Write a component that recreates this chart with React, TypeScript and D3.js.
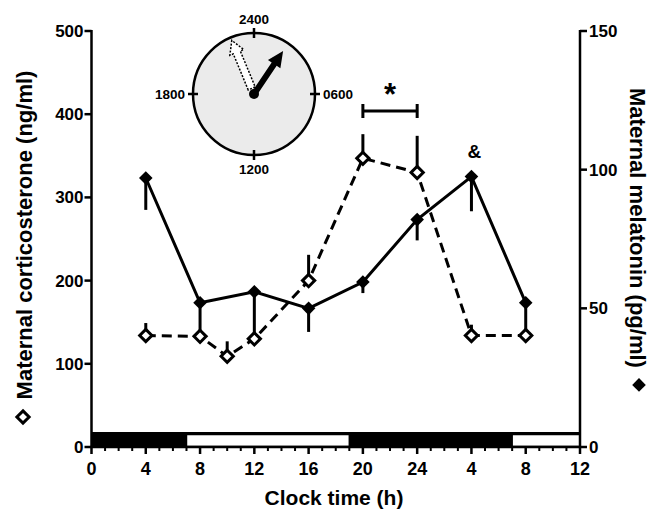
import * as React from "react";
import * as d3 from "d3";

// corticosterone (open diamonds, dashed line, left axis)
const cortHours = [4, 8, 10, 12, 16, 20, 24, 28, 32];
const cortMean = [134, 133, 109, 130, 200, 347, 330, 134, 134];
const cortSem = [15, 0, 18, 0, 31, 29, 44, 13, 0];

// melatonin (filled diamonds, solid line, right axis)
const melHours = [4, 8, 12, 16, 20, 24, 28, 32];
const melMean = [97, 52, 56, 50, 59.5, 82, 97.5, 52];
const melSem = [11.5, 11, 17, 8.5, 4, 7.5, 12.5, 9.5];

const xTickHours = [0, 4, 8, 12, 16, 20, 24, 28, 32, 36];
const xTickLabels = ["0", "4", "8", "12", "16", "20", "24", "4", "8", "12"];
const leftTicks = [0, 100, 200, 300, 400, 500];
const rightTicks = [0, 50, 100, 150];

// light / dark bar
const lightPeriods = [[7, 19], [31, 36]];

// clock inset
const clockLabels = ["2400", "0600", "1200", "1800"];
const clockLabelHours = [0, 6, 12, 18];
const melAcrophase = 2.27;
const cortAcrophase = 22.5;

const sigRange = [20, 24];
const ampHour = 28;

const FONT = "Arial, 'Liberation Sans', Helvetica, sans-serif";

export default function App() {
  const ref = React.useRef<SVGSVGElement>(null);

  React.useEffect(() => {
    const svg = d3.select(ref.current);
    svg.selectAll("*").remove();

    const x = d3.scaleLinear().domain([0, 36]).range([91.5, 580]);
    const yL = d3.scaleLinear().domain([0, 500]).range([447, 31]);
    const yR = d3.scaleLinear().domain([0, 150]).range([447, 31]);

    const g = svg.append("g").style("font-family", FONT).style("font-weight", "bold");

    // light/dark bar
    g.append("rect")
      .attr("x", x(0)).attr("y", 432)
      .attr("width", x(36) - x(0)).attr("height", 15)
      .attr("fill", "#000");
    g.selectAll(".light").data(lightPeriods).enter().append("rect")
      .attr("x", d => x(d[0])).attr("y", 434.5)
      .attr("width", d => x(d[1]) - x(d[0])).attr("height", 12)
      .attr("fill", "#fff").attr("stroke", "#000").attr("stroke-width", 1.5);

    // axes
    const axis = g.append("g").attr("stroke", "#000").attr("stroke-width", 2.5);
    axis.append("line").attr("x1", x(0)).attr("x2", x(0)).attr("y1", yL(500) - 1).attr("y2", yL(0) + 1);
    axis.append("line").attr("x1", x(36)).attr("x2", x(36)).attr("y1", yR(150) - 1).attr("y2", yR(0) + 1);
    axis.append("line").attr("x1", x(0) - 1).attr("x2", x(36) + 1).attr("y1", 447).attr("y2", 447);

    leftTicks.forEach(t => {
      axis.append("line").attr("x1", x(0) - 7).attr("x2", x(0)).attr("y1", yL(t)).attr("y2", yL(t));
    });
    rightTicks.forEach(t => {
      axis.append("line").attr("x1", x(36)).attr("x2", x(36) + 7).attr("y1", yR(t)).attr("y2", yR(t));
    });
    d3.range(0, 37).forEach(h => {
      const major = h % 4 === 0;
      axis.append("line").attr("x1", x(h)).attr("x2", x(h))
        .attr("y1", 447).attr("y2", 447 + (major ? 7 : 4))
        .attr("stroke-width", major ? 2.5 : 2);
    });

    // tick labels
    g.selectAll(".lt").data(leftTicks).enter().append("text")
      .attr("x", x(0) - 8).attr("y", d => yL(d) + 6)
      .attr("text-anchor", "end").attr("font-size", 17).text(d => d);
    g.selectAll(".rt").data(rightTicks).enter().append("text")
      .attr("x", x(36) + 9).attr("y", d => yR(d) + 6)
      .attr("font-size", 17).text(d => d);
    g.selectAll(".xt").data(xTickHours).enter().append("text")
      .attr("x", d => x(d)).attr("y", 475)
      .attr("text-anchor", "middle").attr("font-size", 18)
      .text((d, i) => xTickLabels[i]);

    // axis titles
    g.append("text").attr("x", 334).attr("y", 505).attr("text-anchor", "middle")
      .attr("font-size", 21).text("Clock time (h)");

    g.append("text")
      .attr("transform", "translate(32,235) rotate(-90)")
      .attr("text-anchor", "middle")
      .attr("font-size", 22).text("Maternal corticosterone (ng/ml)");
    const rightTitle = g.append("text")
      .attr("transform", "translate(630,88) rotate(90)")
      .attr("font-size", 22).text("Maternal melatonin (pg/ml)");
    const rightLen = (rightTitle.node() as SVGTextElement).getComputedTextLength();

    const openDiamond = d3.symbol(d3.symbolDiamond2, 95)();
    const filledDiamond = d3.symbol(d3.symbolDiamond2, 118)();

    g.append("path").attr("d", openDiamond)
      .attr("transform", "translate(23,417)")
      .attr("fill", "#fff").attr("stroke", "#000").attr("stroke-width", 3);
    g.append("path").attr("d", filledDiamond)
      .attr("transform", `translate(639,${88 + rightLen + 17})`)
      .attr("fill", "#000");

    // error bars
    const eb = g.append("g").attr("stroke", "#000").attr("stroke-width", 3);
    cortHours.forEach((h, i) => {
      if (cortSem[i] > 0)
        eb.append("line").attr("x1", x(h)).attr("x2", x(h))
          .attr("y1", yL(cortMean[i])).attr("y2", yL(cortMean[i] + cortSem[i]));
    });
    melHours.forEach((h, i) => {
      eb.append("line").attr("x1", x(h)).attr("x2", x(h))
        .attr("y1", yR(melMean[i])).attr("y2", yR(melMean[i] - melSem[i]));
    });

    // lines
    const melLine = d3.line<number>().x((d, i) => x(melHours[i])).y(d => yR(d));
    const cortLine = d3.line<number>().x((d, i) => x(cortHours[i])).y(d => yL(d));
    g.append("path").attr("d", melLine(melMean)).attr("fill", "none")
      .attr("stroke", "#000").attr("stroke-width", 3);
    g.append("path").attr("d", cortLine(cortMean)).attr("fill", "none")
      .attr("stroke", "#000").attr("stroke-width", 3).attr("stroke-dasharray", "10,6");

    // markers
    g.selectAll(".mm").data(melMean).enter().append("path")
      .attr("d", filledDiamond)
      .attr("transform", (d, i) => `translate(${x(melHours[i])},${yR(d)})`)
      .attr("fill", "#000");
    g.selectAll(".cm").data(cortMean).enter().append("path")
      .attr("d", openDiamond)
      .attr("transform", (d, i) => `translate(${x(cortHours[i])},${yL(d)})`)
      .attr("fill", "#fff").attr("stroke", "#000").attr("stroke-width", 3);

    // significance bracket
    const by = 111;
    g.append("path")
      .attr("d", `M${x(sigRange[0])},${by - 7}V${by + 7}M${x(sigRange[0])},${by}H${x(sigRange[1])}M${x(sigRange[1])},${by - 7}V${by + 7}`)
      .attr("stroke", "#000").attr("stroke-width", 3).attr("fill", "none");
    g.append("text").attr("x", (x(sigRange[0]) + x(sigRange[1])) / 2).attr("y", 105)
      .attr("text-anchor", "middle").attr("font-size", 31).text("*");
    g.append("text").attr("x", x(ampHour) + 3).attr("y", 158)
      .attr("text-anchor", "middle").attr("font-size", 19).text("&");

    // clock inset
    const cx = 254, cy = 94, r = 61;
    const angle = d3.scaleLinear().domain([0, 24]).range([0, 360]);
    const clock = g.append("g").attr("transform", `translate(${cx},${cy})`);
    clock.append("circle").attr("r", r).attr("fill", "#ebebeb")
      .attr("stroke", "#000").attr("stroke-width", 2.5);
    clockLabelHours.forEach(h => {
      clock.append("line").attr("transform", `rotate(${angle(h)})`)
        .attr("x1", 0).attr("x2", 0).attr("y1", -r - 5).attr("y2", -r + 5)
        .attr("stroke", "#000").attr("stroke-width", 2.5);
    });
    const lblPos = [
      { x: 0, y: -r - 9, anchor: "middle" },
      { x: r + 8, y: 5, anchor: "start" },
      { x: 0, y: r + 19, anchor: "middle" },
      { x: -r - 8, y: 5, anchor: "end" },
    ];
    clockLabels.forEach((l, i) => {
      clock.append("text").attr("x", lblPos[i].x).attr("y", lblPos[i].y)
        .attr("text-anchor", lblPos[i].anchor).attr("font-size", 13.5).text(l);
    });

    const arrow = (start: number, L: number, w: number, hl: number, hw: number) =>
      [[-w, -start], [-w, -(L - hl)], [-hw, -(L - hl)], [0, -L], [hw, -(L - hl)], [w, -(L - hl)], [w, -start]]
        .map(p => p.join(",")).join(" ");

    clock.append("polygon").attr("points", arrow(6, 58, 3.8, 13, 7.5))
      .attr("transform", `rotate(${angle(cortAcrophase)})`)
      .attr("fill", "#fff").attr("stroke", "#000").attr("stroke-width", 1.5)
      .attr("stroke-dasharray", "2,1.5");
    clock.append("polygon").attr("points", arrow(0, 52, 3, 16, 7.5))
      .attr("transform", `rotate(${angle(melAcrophase)})`)
      .attr("fill", "#000");
    clock.append("circle").attr("r", 5).attr("fill", "#000");
  }, []);

  return (
    <svg ref={ref} width={653} height={510}
      style={{ position: "absolute", left: 0, top: 0, background: "#fff" }} />
  );
}
